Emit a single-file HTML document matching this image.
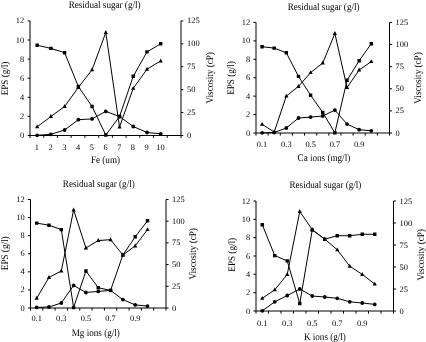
<!DOCTYPE html>
<html><head><meta charset="utf-8"><style>
html,body{margin:0;padding:0;background:#fff;}
svg{display:block;will-change:transform;}
text{font-family:"Liberation Serif", serif;font-size:9.6px;fill:#000;text-rendering:geometricPrecision;}
.t{font-size:8.4px;}
</style></head><body>
<svg width="426" height="342" viewBox="0 0 426 342">
<rect width="426" height="342" fill="#fff"/>
<path d="M30 20.9V138.1M181 20.9V138.1" stroke="#000" stroke-width="1" fill="none"/>
<path d="M27.7 135.5H183.3" stroke="#000" stroke-width="1" fill="none"/>
<path d="M27.7 116.4H30M27.7 97.3H30M27.7 78.2H30M27.7 59.1H30M27.7 40H30M27.7 20.9H30M181 112.58H183.3M181 89.66H183.3M181 66.74H183.3M181 43.82H183.3M181 20.9H183.3M43.73 135.5V137.8M57.45 135.5V137.8M71.18 135.5V137.8M84.91 135.5V137.8M98.64 135.5V137.8M112.36 135.5V137.8M126.09 135.5V137.8M139.82 135.5V137.8M153.55 135.5V137.8M167.27 135.5V137.8" stroke="#000" stroke-width="1" fill="none"/>
<text class="t" x="24.2" y="138" text-anchor="end">0</text>
<text class="t" x="24.2" y="118.9" text-anchor="end">2</text>
<text class="t" x="24.2" y="99.8" text-anchor="end">4</text>
<text class="t" x="24.2" y="80.7" text-anchor="end">6</text>
<text class="t" x="24.2" y="61.6" text-anchor="end">8</text>
<text class="t" x="24.2" y="42.5" text-anchor="end">10</text>
<text class="t" x="24.2" y="23.4" text-anchor="end">12</text>
<text class="t" x="187" y="138">0</text>
<text class="t" x="187" y="115.08">25</text>
<text class="t" x="187" y="92.16">50</text>
<text class="t" x="187" y="69.24">75</text>
<text class="t" x="187" y="46.32">100</text>
<text class="t" x="187" y="23.4">125</text>
<text class="t" x="36.86" y="149.7" text-anchor="middle">1</text>
<text class="t" x="50.59" y="149.7" text-anchor="middle">2</text>
<text class="t" x="64.32" y="149.7" text-anchor="middle">3</text>
<text class="t" x="78.05" y="149.7" text-anchor="middle">4</text>
<text class="t" x="91.77" y="149.7" text-anchor="middle">5</text>
<text class="t" x="105.5" y="149.7" text-anchor="middle">6</text>
<text class="t" x="119.23" y="149.7" text-anchor="middle">7</text>
<text class="t" x="132.95" y="149.7" text-anchor="middle">8</text>
<text class="t" x="146.68" y="149.7" text-anchor="middle">9</text>
<text class="t" x="160.41" y="149.7" text-anchor="middle">10</text>
<text transform="translate(104.6,7.9) scale(0.95,1.05)" text-anchor="middle">Residual sugar (g/l)</text>
<text transform="translate(105.5,162.6) scale(0.95,1.05)" text-anchor="middle">Fe (um)</text>
<text transform="translate(8,78.5) rotate(-90) scale(0.95,1.05)" text-anchor="middle">EPS (g/l)</text>
<text transform="translate(212.7,77.8) rotate(-90) scale(0.95,1.05)" text-anchor="middle">Viscosity (cP)</text>
<polyline points="37.16,45.2 50.89,48.4 64.62,52.7 78.35,86.5 92.07,106.5 105.8,135 119.53,116.5 133.25,76.3 146.98,51.9 160.71,43.8" fill="none" stroke="#000" stroke-width="1"/>
<path d="M35.46 43.5h3.4v3.4h-3.4zM49.19 46.7h3.4v3.4h-3.4zM62.92 51h3.4v3.4h-3.4zM76.65 84.8h3.4v3.4h-3.4zM90.37 104.8h3.4v3.4h-3.4zM104.1 133.3h3.4v3.4h-3.4zM117.83 114.8h3.4v3.4h-3.4zM131.55 74.6h3.4v3.4h-3.4zM145.28 50.2h3.4v3.4h-3.4zM159.01 42.1h3.4v3.4h-3.4z" fill="#000"/>
<polyline points="37.16,126.8 50.89,116.5 64.62,106.5 78.35,87.4 92.07,69.8 105.8,32.5 119.53,127 133.25,88.3 146.98,69.2 160.71,60.9" fill="none" stroke="#000" stroke-width="1"/>
<path d="M37.16 124.4L39.26 128.3H35.06zM50.89 114.1L52.99 118H48.79zM64.62 104.1L66.72 108H62.52zM78.35 85L80.45 88.9H76.25zM92.07 67.4L94.17 71.3H89.97zM105.8 30.1L107.9 34H103.7zM119.53 124.6L121.63 128.5H117.43zM133.25 85.9L135.35 89.8H131.15zM146.98 66.8L149.08 70.7H144.88zM160.71 58.5L162.81 62.4H158.61z" fill="#000"/>
<polyline points="37.16,135.3 50.89,134.3 64.62,130 78.35,119.7 92.07,118.9 105.8,111.4 119.53,116.5 133.25,126.5 146.98,132.5 160.71,133.8" fill="none" stroke="#000" stroke-width="1"/>
<path d="M35.26 135.3a1.9 1.9 0 1 0 3.8 0a1.9 1.9 0 1 0 -3.8 0zM48.99 134.3a1.9 1.9 0 1 0 3.8 0a1.9 1.9 0 1 0 -3.8 0zM62.72 130a1.9 1.9 0 1 0 3.8 0a1.9 1.9 0 1 0 -3.8 0zM76.45 119.7a1.9 1.9 0 1 0 3.8 0a1.9 1.9 0 1 0 -3.8 0zM90.17 118.9a1.9 1.9 0 1 0 3.8 0a1.9 1.9 0 1 0 -3.8 0zM103.9 111.4a1.9 1.9 0 1 0 3.8 0a1.9 1.9 0 1 0 -3.8 0zM117.63 116.5a1.9 1.9 0 1 0 3.8 0a1.9 1.9 0 1 0 -3.8 0zM131.35 126.5a1.9 1.9 0 1 0 3.8 0a1.9 1.9 0 1 0 -3.8 0zM145.08 132.5a1.9 1.9 0 1 0 3.8 0a1.9 1.9 0 1 0 -3.8 0zM158.81 133.8a1.9 1.9 0 1 0 3.8 0a1.9 1.9 0 1 0 -3.8 0z" fill="#000"/>
<path d="M256 22.4V135.6M389.5 22.4V135.6" stroke="#000" stroke-width="1" fill="none"/>
<path d="M253.4 133H392.1" stroke="#000" stroke-width="1" fill="none"/>
<path d="M253.4 114.57H256M253.4 96.13H256M253.4 77.7H256M253.4 59.27H256M253.4 40.83H256M253.4 22.4H256M389.5 110.88H392.1M389.5 88.76H392.1M389.5 66.64H392.1M389.5 44.52H392.1M389.5 22.4H392.1M268.14 133V135.6M280.27 133V135.6M292.41 133V135.6M304.55 133V135.6M316.68 133V135.6M328.82 133V135.6M340.95 133V135.6M353.09 133V135.6M365.23 133V135.6M377.36 133V135.6" stroke="#000" stroke-width="1" fill="none"/>
<text class="t" x="250.2" y="135.5" text-anchor="end">0</text>
<text class="t" x="250.2" y="117.07" text-anchor="end">2</text>
<text class="t" x="250.2" y="98.63" text-anchor="end">4</text>
<text class="t" x="250.2" y="80.2" text-anchor="end">6</text>
<text class="t" x="250.2" y="61.77" text-anchor="end">8</text>
<text class="t" x="250.2" y="43.33" text-anchor="end">10</text>
<text class="t" x="250.2" y="24.9" text-anchor="end">12</text>
<text class="t" x="395.5" y="135.5">0</text>
<text class="t" x="395.5" y="113.38">25</text>
<text class="t" x="395.5" y="91.26">50</text>
<text class="t" x="395.5" y="69.14">75</text>
<text class="t" x="395.5" y="47.02">100</text>
<text class="t" x="395.5" y="24.9">125</text>
<text class="t" x="262.07" y="147.3" text-anchor="middle">0.1</text>
<text class="t" x="286.34" y="147.3" text-anchor="middle">0.3</text>
<text class="t" x="310.61" y="147.3" text-anchor="middle">0.5</text>
<text class="t" x="334.89" y="147.3" text-anchor="middle">0.7</text>
<text class="t" x="359.16" y="147.3" text-anchor="middle">0.9</text>
<text transform="translate(323.6,10.3) scale(0.95,1.05)" text-anchor="middle">Residual sugar (g/l)</text>
<text transform="translate(323.9,161.1) scale(0.95,1.05)" text-anchor="middle">Ca ions (mg/l)</text>
<text transform="translate(234.4,78) rotate(-90) scale(0.95,1.05)" text-anchor="middle">EPS (g/l)</text>
<text transform="translate(420.6,78) rotate(-90) scale(0.95,1.05)" text-anchor="middle">Viscosity (cP)</text>
<polyline points="262.07,46.7 274.2,48.1 286.34,52.8 298.48,76.4 310.61,95.2 322.75,112.5 334.89,132.8 347.02,80.3 359.16,60.7 371.3,43.7" fill="none" stroke="#000" stroke-width="1"/>
<path d="M260.37 45h3.4v3.4h-3.4zM272.5 46.4h3.4v3.4h-3.4zM284.64 51.1h3.4v3.4h-3.4zM296.78 74.7h3.4v3.4h-3.4zM308.91 93.5h3.4v3.4h-3.4zM321.05 110.8h3.4v3.4h-3.4zM333.19 131.1h3.4v3.4h-3.4zM345.32 78.6h3.4v3.4h-3.4zM357.46 59h3.4v3.4h-3.4zM369.6 42h3.4v3.4h-3.4z" fill="#000"/>
<polyline points="262.07,124.3 274.2,132 286.34,96.1 298.48,86.4 310.61,72.6 322.75,63 334.89,33.5 347.02,87.6 359.16,70 371.3,61.6" fill="none" stroke="#000" stroke-width="1"/>
<path d="M262.07 121.9L264.17 125.8H259.97zM274.2 129.6L276.3 133.5H272.1zM286.34 93.7L288.44 97.6H284.24zM298.48 84L300.58 87.9H296.38zM310.61 70.2L312.71 74.1H308.51zM322.75 60.6L324.85 64.5H320.65zM334.89 31.1L336.99 35H332.79zM347.02 85.2L349.12 89.1H344.92zM359.16 67.6L361.26 71.5H357.06zM371.3 59.2L373.4 63.1H369.2z" fill="#000"/>
<polyline points="262.07,132.8 274.2,132.5 286.34,128 298.48,118 310.61,117.1 322.75,116 334.89,110.1 347.02,124.1 359.16,129.7 371.3,130.8" fill="none" stroke="#000" stroke-width="1"/>
<path d="M260.17 132.8a1.9 1.9 0 1 0 3.8 0a1.9 1.9 0 1 0 -3.8 0zM272.3 132.5a1.9 1.9 0 1 0 3.8 0a1.9 1.9 0 1 0 -3.8 0zM284.44 128a1.9 1.9 0 1 0 3.8 0a1.9 1.9 0 1 0 -3.8 0zM296.58 118a1.9 1.9 0 1 0 3.8 0a1.9 1.9 0 1 0 -3.8 0zM308.71 117.1a1.9 1.9 0 1 0 3.8 0a1.9 1.9 0 1 0 -3.8 0zM320.85 116a1.9 1.9 0 1 0 3.8 0a1.9 1.9 0 1 0 -3.8 0zM332.99 110.1a1.9 1.9 0 1 0 3.8 0a1.9 1.9 0 1 0 -3.8 0zM345.12 124.1a1.9 1.9 0 1 0 3.8 0a1.9 1.9 0 1 0 -3.8 0zM357.26 129.7a1.9 1.9 0 1 0 3.8 0a1.9 1.9 0 1 0 -3.8 0zM369.4 130.8a1.9 1.9 0 1 0 3.8 0a1.9 1.9 0 1 0 -3.8 0z" fill="#000"/>
<path d="M30.5 199.5V310.6M166 199.5V310.6" stroke="#000" stroke-width="1" fill="none"/>
<path d="M27.9 308H168.6" stroke="#000" stroke-width="1" fill="none"/>
<path d="M27.9 289.92H30.5M27.9 271.83H30.5M27.9 253.75H30.5M27.9 235.67H30.5M27.9 217.58H30.5M27.9 199.5H30.5M166 286.3H168.6M166 264.6H168.6M166 242.9H168.6M166 221.2H168.6M166 199.5H168.6M42.82 308V310.6M55.14 308V310.6M67.45 308V310.6M79.77 308V310.6M92.09 308V310.6M104.41 308V310.6M116.73 308V310.6M129.05 308V310.6M141.36 308V310.6M153.68 308V310.6" stroke="#000" stroke-width="1" fill="none"/>
<text class="t" x="24.7" y="310.5" text-anchor="end">0</text>
<text class="t" x="24.7" y="292.42" text-anchor="end">2</text>
<text class="t" x="24.7" y="274.33" text-anchor="end">4</text>
<text class="t" x="24.7" y="256.25" text-anchor="end">6</text>
<text class="t" x="24.7" y="238.17" text-anchor="end">8</text>
<text class="t" x="24.7" y="220.08" text-anchor="end">10</text>
<text class="t" x="24.7" y="202" text-anchor="end">12</text>
<text class="t" x="172" y="310.5">0</text>
<text class="t" x="172" y="288.8">25</text>
<text class="t" x="172" y="267.1">50</text>
<text class="t" x="172" y="245.4">75</text>
<text class="t" x="172" y="223.7">100</text>
<text class="t" x="172" y="202">125</text>
<text class="t" x="36.66" y="321.3" text-anchor="middle">0.1</text>
<text class="t" x="61.3" y="321.3" text-anchor="middle">0.3</text>
<text class="t" x="85.93" y="321.3" text-anchor="middle">0.5</text>
<text class="t" x="110.57" y="321.3" text-anchor="middle">0.7</text>
<text class="t" x="135.2" y="321.3" text-anchor="middle">0.9</text>
<text transform="translate(98.8,187.3) scale(0.95,1.05)" text-anchor="middle">Residual sugar (g/l)</text>
<text transform="translate(95.8,335.7) scale(0.95,1.05)" text-anchor="middle">Mg ions (g/l)</text>
<text transform="translate(8.2,253.3) rotate(-90) scale(0.95,1.05)" text-anchor="middle">EPS (g/l)</text>
<text transform="translate(196.4,253.8) rotate(-90) scale(0.95,1.05)" text-anchor="middle">Viscosity (cP)</text>
<polyline points="36.66,223.1 48.98,225.2 61.3,229.6 73.61,307.5 85.93,271 98.25,287.7 110.57,290.4 122.89,255 135.2,236.8 147.52,220.8" fill="none" stroke="#000" stroke-width="1"/>
<path d="M34.96 221.4h3.4v3.4h-3.4zM47.28 223.5h3.4v3.4h-3.4zM59.6 227.9h3.4v3.4h-3.4zM71.91 305.8h3.4v3.4h-3.4zM84.23 269.3h3.4v3.4h-3.4zM96.55 286h3.4v3.4h-3.4zM108.87 288.7h3.4v3.4h-3.4zM121.19 253.3h3.4v3.4h-3.4zM133.5 235.1h3.4v3.4h-3.4zM145.82 219.1h3.4v3.4h-3.4z" fill="#000"/>
<polyline points="36.66,298.2 48.98,277.5 61.3,271 73.61,209.9 85.93,248 98.25,240.5 110.57,239.7 122.89,255 135.2,245.9 147.52,229.6" fill="none" stroke="#000" stroke-width="1"/>
<path d="M36.66 295.8L38.76 299.7H34.56zM48.98 275.1L51.08 279H46.88zM61.3 268.6L63.4 272.5H59.2zM73.61 207.5L75.71 211.4H71.51zM85.93 245.6L88.03 249.5H83.83zM98.25 238.1L100.35 242H96.15zM110.57 237.3L112.67 241.2H108.47zM122.89 252.6L124.99 256.5H120.79zM135.2 243.5L137.3 247.4H133.1zM147.52 227.2L149.62 231.1H145.42z" fill="#000"/>
<polyline points="36.66,307.4 48.98,307 61.3,303 73.61,285.4 85.93,292.5 98.25,291.4 110.57,290.4 122.89,299.6 135.2,304.9 147.52,306.1" fill="none" stroke="#000" stroke-width="1"/>
<path d="M34.76 307.4a1.9 1.9 0 1 0 3.8 0a1.9 1.9 0 1 0 -3.8 0zM47.08 307a1.9 1.9 0 1 0 3.8 0a1.9 1.9 0 1 0 -3.8 0zM59.4 303a1.9 1.9 0 1 0 3.8 0a1.9 1.9 0 1 0 -3.8 0zM71.71 285.4a1.9 1.9 0 1 0 3.8 0a1.9 1.9 0 1 0 -3.8 0zM84.03 292.5a1.9 1.9 0 1 0 3.8 0a1.9 1.9 0 1 0 -3.8 0zM96.35 291.4a1.9 1.9 0 1 0 3.8 0a1.9 1.9 0 1 0 -3.8 0zM108.67 290.4a1.9 1.9 0 1 0 3.8 0a1.9 1.9 0 1 0 -3.8 0zM120.99 299.6a1.9 1.9 0 1 0 3.8 0a1.9 1.9 0 1 0 -3.8 0zM133.3 304.9a1.9 1.9 0 1 0 3.8 0a1.9 1.9 0 1 0 -3.8 0zM145.62 306.1a1.9 1.9 0 1 0 3.8 0a1.9 1.9 0 1 0 -3.8 0z" fill="#000"/>
<path d="M256 201V313.6M393.5 201V313.6" stroke="#000" stroke-width="1" fill="none"/>
<path d="M253.4 311H396.1" stroke="#000" stroke-width="1" fill="none"/>
<path d="M253.4 292.67H256M253.4 274.33H256M253.4 256H256M253.4 237.67H256M253.4 219.33H256M253.4 201H256M393.5 289H396.1M393.5 267H396.1M393.5 245H396.1M393.5 223H396.1M393.5 201H396.1M268.5 311V313.6M281 311V313.6M293.5 311V313.6M306 311V313.6M318.5 311V313.6M331 311V313.6M343.5 311V313.6M356 311V313.6M368.5 311V313.6M381 311V313.6" stroke="#000" stroke-width="1" fill="none"/>
<text class="t" x="250.2" y="313.5" text-anchor="end">0</text>
<text class="t" x="250.2" y="295.17" text-anchor="end">2</text>
<text class="t" x="250.2" y="276.83" text-anchor="end">4</text>
<text class="t" x="250.2" y="258.5" text-anchor="end">6</text>
<text class="t" x="250.2" y="240.17" text-anchor="end">8</text>
<text class="t" x="250.2" y="221.83" text-anchor="end">10</text>
<text class="t" x="250.2" y="203.5" text-anchor="end">12</text>
<text class="t" x="399.5" y="313.5">0</text>
<text class="t" x="399.5" y="291.5">25</text>
<text class="t" x="399.5" y="269.5">50</text>
<text class="t" x="399.5" y="247.5">75</text>
<text class="t" x="399.5" y="225.5">100</text>
<text class="t" x="399.5" y="203.5">125</text>
<text class="t" x="262.25" y="325.8" text-anchor="middle">0.1</text>
<text class="t" x="287.25" y="325.8" text-anchor="middle">0.3</text>
<text class="t" x="312.25" y="325.8" text-anchor="middle">0.5</text>
<text class="t" x="337.25" y="325.8" text-anchor="middle">0.7</text>
<text class="t" x="362.25" y="325.8" text-anchor="middle">0.9</text>
<text transform="translate(325.4,187.5) scale(0.95,1.05)" text-anchor="middle">Residual sugar (g/l)</text>
<text transform="translate(324.9,340.3) scale(0.95,1.05)" text-anchor="middle">K ions (g/l)</text>
<text transform="translate(234.7,254.8) rotate(-90) scale(0.95,1.05)" text-anchor="middle">EPS (g/l)</text>
<text transform="translate(423.6,254.8) rotate(-90) scale(0.95,1.05)" text-anchor="middle">Viscosity (cP)</text>
<polyline points="262.25,224.7 274.75,255.6 287.25,260.9 299.75,303.5 312.25,230 324.75,239.2 337.25,235.7 349.75,235.7 362.25,234.3 374.75,234.3" fill="none" stroke="#000" stroke-width="1"/>
<path d="M260.55 223h3.4v3.4h-3.4zM273.05 253.9h3.4v3.4h-3.4zM285.55 259.2h3.4v3.4h-3.4zM298.05 301.8h3.4v3.4h-3.4zM310.55 228.3h3.4v3.4h-3.4zM323.05 237.5h3.4v3.4h-3.4zM335.55 234h3.4v3.4h-3.4zM348.05 234h3.4v3.4h-3.4zM360.55 232.6h3.4v3.4h-3.4zM373.05 232.6h3.4v3.4h-3.4z" fill="#000"/>
<polyline points="262.25,298.3 274.75,289.8 287.25,274.4 299.75,211.5 312.25,229.6 324.75,239.2 337.25,249.8 349.75,266.2 362.25,274.4 374.75,284.1" fill="none" stroke="#000" stroke-width="1"/>
<path d="M262.25 295.9L264.35 299.8H260.15zM274.75 287.4L276.85 291.3H272.65zM287.25 272L289.35 275.9H285.15zM299.75 209.1L301.85 213H297.65zM312.25 227.2L314.35 231.1H310.15zM324.75 236.8L326.85 240.7H322.65zM337.25 247.4L339.35 251.3H335.15zM349.75 263.8L351.85 267.7H347.65zM362.25 272L364.35 275.9H360.15zM374.75 281.7L376.85 285.6H372.65z" fill="#000"/>
<polyline points="262.25,310.8 274.75,301.8 287.25,295.5 299.75,289 312.25,296 324.75,297 337.25,298.3 349.75,301.8 362.25,303 374.75,304.4" fill="none" stroke="#000" stroke-width="1"/>
<path d="M260.35 310.8a1.9 1.9 0 1 0 3.8 0a1.9 1.9 0 1 0 -3.8 0zM272.85 301.8a1.9 1.9 0 1 0 3.8 0a1.9 1.9 0 1 0 -3.8 0zM285.35 295.5a1.9 1.9 0 1 0 3.8 0a1.9 1.9 0 1 0 -3.8 0zM297.85 289a1.9 1.9 0 1 0 3.8 0a1.9 1.9 0 1 0 -3.8 0zM310.35 296a1.9 1.9 0 1 0 3.8 0a1.9 1.9 0 1 0 -3.8 0zM322.85 297a1.9 1.9 0 1 0 3.8 0a1.9 1.9 0 1 0 -3.8 0zM335.35 298.3a1.9 1.9 0 1 0 3.8 0a1.9 1.9 0 1 0 -3.8 0zM347.85 301.8a1.9 1.9 0 1 0 3.8 0a1.9 1.9 0 1 0 -3.8 0zM360.35 303a1.9 1.9 0 1 0 3.8 0a1.9 1.9 0 1 0 -3.8 0zM372.85 304.4a1.9 1.9 0 1 0 3.8 0a1.9 1.9 0 1 0 -3.8 0z" fill="#000"/>
</svg>
</body></html>
